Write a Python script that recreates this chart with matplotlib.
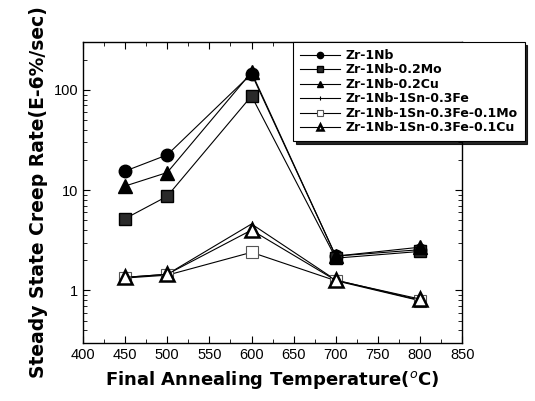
import matplotlib
matplotlib.use("Agg")
import matplotlib.pyplot as plt
from matplotlib.ticker import MultipleLocator, LogLocator, FixedLocator, FixedFormatter, NullFormatter

plt.rcParams['font.family'] = ['Liberation Sans', 'DejaVu Sans']

# Final annealing temperature (C)
temps = [450, 500, 600, 700, 800]

# Steady state creep rate (E-6 %/sec)
zr1nb = [15.5, 22.5, 145, 2.2, 2.55]
zr1nb_mo = [5.2, 8.7, 87, 2.1, 2.45]
zr1nb_cu = [11.0, 15.0, 150, 2.2, 2.7]
zr1nb1sn_fe = [1.35, 1.45, 4.6, 1.27, 0.8]
zr1nb1sn_fe_mo = [1.33, 1.42, 2.4, 1.25, 0.79]
zr1nb1sn_fe_cu = [1.35, 1.45, 4.0, 1.26, 0.82]

labels = ['Zr-1Nb', 'Zr-1Nb-0.2Mo', 'Zr-1Nb-0.2Cu', 'Zr-1Nb-1Sn-0.3Fe',
          'Zr-1Nb-1Sn-0.3Fe-0.1Mo', 'Zr-1Nb-1Sn-0.3Fe-0.1Cu']
series = [zr1nb, zr1nb_mo, zr1nb_cu, zr1nb1sn_fe, zr1nb1sn_fe_mo, zr1nb1sn_fe_cu]

styles = [
    dict(marker='o', ms=9, mfc='black', mec='black'),
    dict(marker='s', ms=8, mfc='#2a2a2a', mec='black'),
    dict(marker='^', ms=10, mfc='black', mec='black'),
    dict(marker='|', ms=5, mfc='black', mec='black', mew=0.8),
    dict(marker='s', ms=8, mfc='white', mec='#555555', mew=0.8),
    dict(marker='^', ms=10, mfc='white', mec='black', mew=1.8),
]

fig = plt.figure(figsize=(5.35, 4.01), dpi=100)
ax = fig.add_axes([0.155, 0.145, 0.709, 0.75])

for vals, lab, st in zip(series, labels, styles):
    ax.plot(temps, vals, color='black', lw=0.8, label=lab, **st)

ax.set_yscale('log')
ax.set_xlim(400, 850)
ax.set_ylim(0.3, 300)

ax.xaxis.set_major_locator(MultipleLocator(50))
ax.xaxis.set_minor_locator(MultipleLocator(25))
ax.yaxis.set_major_locator(FixedLocator([1, 10, 100]))
ax.yaxis.set_major_formatter(FixedFormatter(['1', '10', '100']))
ax.yaxis.set_minor_locator(LogLocator(base=10, subs=range(2, 10)))
ax.yaxis.set_minor_formatter(NullFormatter())

ax.tick_params(which='both', direction='in', top=True, right=True, labelsize=10.5)
ax.tick_params(which='major', length=5, width=0.8)
ax.tick_params(which='minor', length=3, width=0.6)
for s in ax.spines.values():
    s.set_linewidth(1.0)

ax.set_xlabel('Final Annealing Temperature($^o$C)', fontsize=13, fontweight='bold',
              family='DejaVu Sans', labelpad=5)
ax.set_ylabel('Steady State Creep Rate(E-6%/sec)', fontsize=13.5, fontweight='bold',
              family='DejaVu Sans', labelpad=4)

leg = ax.legend(loc='upper left', bbox_to_anchor=(293 / 535, 1 - 42 / 401),
                bbox_transform=fig.transFigure, fancybox=False,
                shadow={'color': 'black', 'alpha': 0.85},
                edgecolor='black', labelspacing=0.12, markerscale=0.5,
                handlelength=3.2, handletextpad=0.45, borderaxespad=0,
                borderpad=0.55,
                prop={'weight': 'bold', 'size': 9, 'family': 'DejaVu Sans'})
leg.get_frame().set_linewidth(0.8)

fig.savefig('out.png', dpi=100)
